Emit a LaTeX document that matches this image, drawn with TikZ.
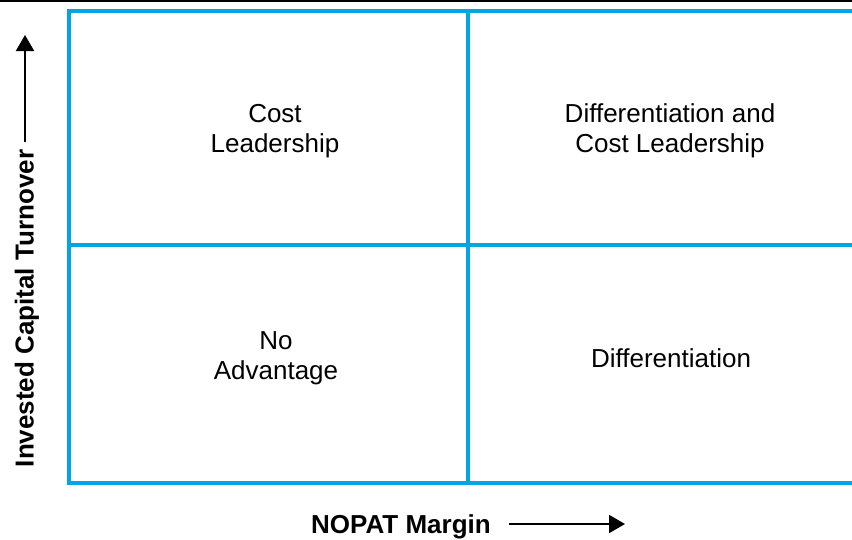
\documentclass[tikz,border=0pt]{standalone}
\usepackage{fontspec}
\setmainfont{Liberation Sans}
\usetikzlibrary{arrows.meta,positioning,calc}
\definecolor{gridblue}{RGB}{0,166,228}
\tikzstyle{frame} = [gridblue, line width=3.5pt]
\tikzstyle{cell} = [align=center, inner sep=0pt, font=\fontsize{26}{30}\selectfont]
\tikzstyle{axislabel} = [inner sep=0pt, font=\fontsize{26}{30}\selectfont\bfseries]
\tikzstyle{axisarrow} = [line width=2pt, -{Triangle[length=16pt,width=18pt]}]

\begin{document}
\begin{tikzpicture}[x=1pt,y=-1pt]
\useasboundingbox (0,0) rectangle (852,539);
\draw[line width=2pt] (0,1)--(852,1);
% grid corners
\coordinate (tl) at (69,11);
\coordinate (tr) at (852,11);
\coordinate (bl) at (69,483);
\coordinate (br) at (852,483);
\coordinate (ml) at (69,245);
\coordinate (mr) at (852,245);
\coordinate (mt) at (468,11);
\coordinate (mb) at (468,483);
\draw[frame] (tr)--(tl)--(bl)--(br);
\draw[frame] (ml)--(mr);
\draw[frame] (mt)--(mb);
% quadrants
\node[cell] (cost) at (275,131) {Cost\\Leadership};
\node[cell] (both) at (670,131) {Differentiation and\\Cost Leadership};
\node[cell] (none) at (276,358) {No\\Advantage};
\node[cell] (diff) at (671,358) {Differentiation};
% axes
\node[axislabel, anchor=base] (xlab) at (401,533) {NOPAT Margin};
\coordinate (xtip) at (625,524);
\draw[axisarrow] ([xshift=18pt]xlab.east |- xtip)--(xtip);
\node[axislabel, anchor=base, rotate=90] (ylab) at (33.5,308.5) {Invested Capital Turnover};
\coordinate (ytip) at (25,35);
\draw[axisarrow] ([yshift=8pt]ytip |- ylab.east)--(ytip);
\end{tikzpicture}
\end{document}
